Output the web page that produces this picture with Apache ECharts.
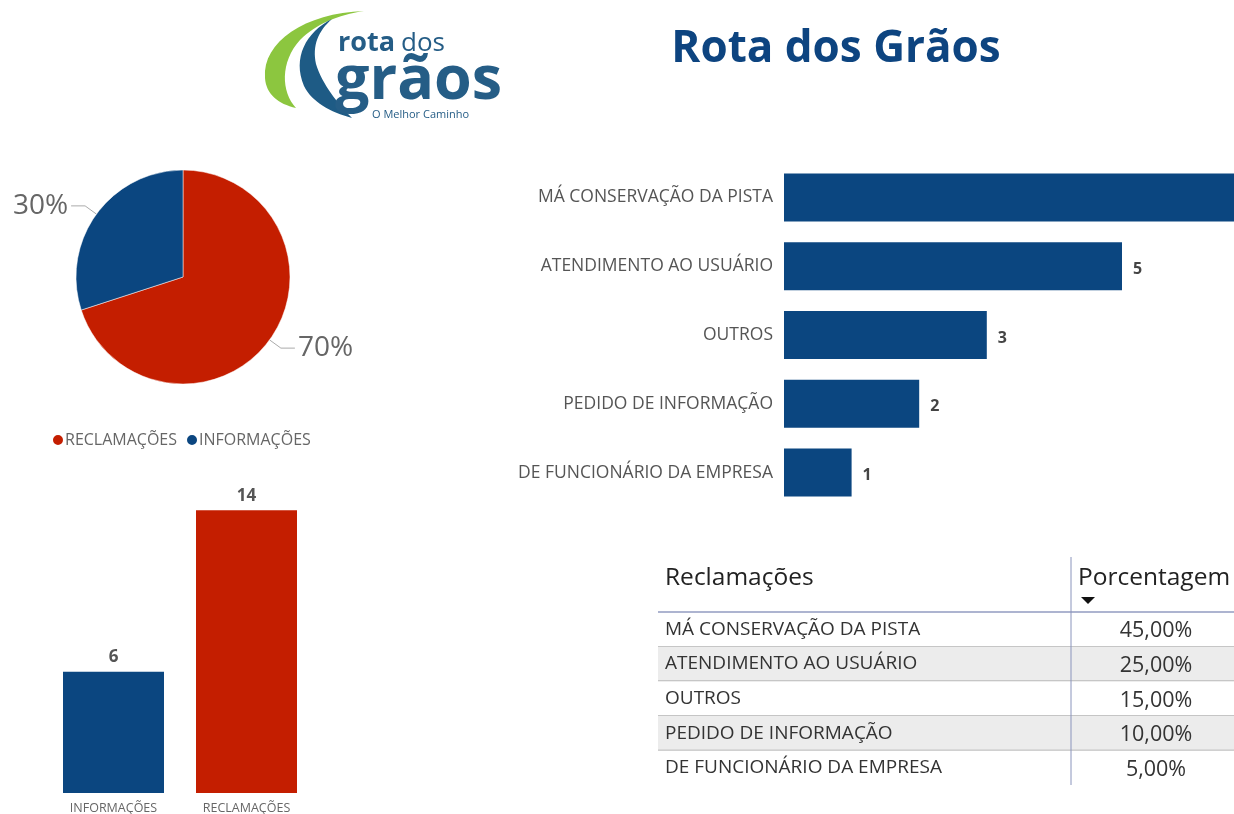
<!DOCTYPE html>
<html>
<head>
<meta charset="utf-8">
<script src="https://cdn.jsdelivr.net/npm/echarts@6/dist/echarts.min.js"></script>
<style>
  html, body { margin: 0; padding: 0; background: #fff; }
  #main { width: 1234px; height: 814px; }
</style>
</head>
<body>
<div id="main"></div>
<script>
  // pie / column: reclamações x informações
  var tipoNomes = ['RECLAMAÇÕES', 'INFORMAÇÕES']
  var tipoValores = [14, 6]
  var colunaNomes = ['INFORMAÇÕES', 'RECLAMAÇÕES']
  var colunaValores = [6, 14]

  // bar: motivos das reclamações
  var motivos = ['MÁ CONSERVAÇÃO DA PISTA', 'ATENDIMENTO AO USUÁRIO', 'OUTROS', 'PEDIDO DE INFORMAÇÃO', 'DE FUNCIONÁRIO DA EMPRESA']
  var motivoValores = [9, 5, 3, 2, 1]
  var porcentagens = ['45,00%', '25,00%', '15,00%', '10,00%', '5,00%']

  var AZUL = '#0b4680'
  var VERMELHO = '#c41e00'
  var FONTE = '"Open Sans", "Noto Sans", sans-serif'

  // logo outline: list of cubic segments -> polygon points
  function bezierPts (start, segs) {
    var pts = [start]
    var p0 = start
    segs.forEach(function (s) {
      for (var k = 1; k <= 16; k++) {
        var t = k / 16, u = 1 - t
        pts.push([
          u * u * u * p0[0] + 3 * u * u * t * s[0][0] + 3 * u * t * t * s[1][0] + t * t * t * s[2][0],
          u * u * u * p0[1] + 3 * u * u * t * s[0][1] + 3 * u * t * t * s[1][1] + t * t * t * s[2][1]
        ])
      }
      p0 = s[2]
    })
    return pts
  }

  var chart = echarts.init(document.getElementById('main'))

  var option = {
    animation: false,
    textStyle: { fontFamily: FONTE },
    color: [VERMELHO, AZUL],
    legend: {
      data: tipoNomes,
      left: 46,
      top: 427,
      icon: 'circle',
      itemWidth: 12,
      itemHeight: 12,
      itemGap: 8,
      textStyle: { fontSize: 16, color: '#666', padding: [0, 0, 0, -4] }
    },
    grid: [
      { left: 47, top: 490, width: 266, height: 303, outerBoundsMode: 'none' },
      { left: 784, top: 163, width: 676, height: 344, outerBoundsMode: 'none' },
      { left: 658, top: 612, width: 576, height: 173, outerBoundsMode: 'none' }
    ],
    xAxis: [
      {
        gridIndex: 0, type: 'category', data: colunaNomes,
        axisLine: { show: false }, axisTick: { show: false },
        axisLabel: { fontSize: 12.5, color: '#666', margin: 9 }
      },
      { gridIndex: 1, type: 'value', min: 0, max: 10, show: false },
      { gridIndex: 2, type: 'value', min: 0, max: 1, show: false }
    ],
    yAxis: [
      { gridIndex: 0, type: 'value', min: 0, max: 15, show: false },
      {
        gridIndex: 1, type: 'category', data: motivos, inverse: true,
        axisLine: { show: false }, axisTick: { show: false },
        axisLabel: { fontSize: 17.5, color: '#555', margin: 11, padding: [4, 0, 0, 0] }
      },
      { gridIndex: 2, type: 'category', data: motivos, inverse: true, show: false }
    ],
    series: [
      {
        type: 'pie',
        center: [183, 277],
        radius: 107,
        startAngle: 90,
        clockwise: true,
        data: tipoNomes.map(function (n, i) { return { name: n, value: tipoValores[i] } }),
        itemStyle: { borderColor: '#fff', borderWidth: 0.5 },
        label: {
          formatter: function (p) { return Math.round(p.percent) + '%' },
          fontSize: 28, color: '#666', distanceToLabelLine: 3, padding: [7, 0, 0, 0]
        },
        labelLine: { length: 14, length2: 14, lineStyle: { color: '#aaa', width: 1 } },
        emphasis: { disabled: true }
      },
      {
        type: 'bar',
        xAxisIndex: 0, yAxisIndex: 0,
        barWidth: 101,
        data: colunaValores.map(function (v, i) {
          return { value: v, itemStyle: { color: colunaNomes[i] === 'RECLAMAÇÕES' ? VERMELHO : AZUL } }
        }),
        label: { show: true, position: 'top', distance: 6, fontSize: 17, fontWeight: 'bold', color: '#555' }
      },
      {
        type: 'bar',
        xAxisIndex: 1, yAxisIndex: 1,
        barWidth: 48,
        itemStyle: { color: AZUL },
        data: motivoValores,
        label: { show: true, position: 'right', distance: 11, offset: [0, 3], fontSize: 16, fontWeight: 'bold', color: '#444' }
      },
      {
        type: 'custom',
        xAxisIndex: 2, yAxisIndex: 2,
        data: motivos.map(function (m, i) { return [i, m, porcentagens[i]] }),
        encode: { y: 0 },
        renderItem: function (params, api) {
          var i = api.value(0)
          var c = api.coord([0, i])
          var h = api.size([0, 1])[1]
          var y0 = c[1] - h / 2
          var kids = [
            {
              type: 'rect',
              shape: { x: 658, y: y0, width: 576, height: h },
              style: { fill: i % 2 === 1 ? '#ececec' : '#fff' }
            },
            {
              type: 'text',
              style: { x: 665, y: c[1], text: motivos[i], fontSize: 19, fontFamily: FONTE, fill: '#333', verticalAlign: 'middle' }
            },
            {
              type: 'text',
              style: { x: 1156, y: c[1] + 2, text: porcentagens[i], fontSize: 21.5, fontFamily: FONTE, fill: '#333', align: 'center', verticalAlign: 'middle' }
            }
          ]
          if (i < motivos.length - 1) {
            kids.push({
              type: 'line',
              shape: { x1: 658, y1: y0 + h, x2: 1234, y2: y0 + h },
              style: { stroke: '#a0a0a0', lineWidth: 1.3 }
            })
          }
          return { type: 'group', children: kids }
        }
      }
    ],
    graphic: [
      // logo
      {
        type: 'polygon',
        shape: { points: bezierPts([364, 11], [
          [[305, 13], [262, 42], [265, 78]],
          [[266, 94], [278, 104], [296, 108]],
          [[281, 92], [280, 62], [300, 40]],
          [[316, 24], [338, 15], [364, 11]]
        ]) },
        style: { fill: '#8cc63f' }
      },
      {
        type: 'polygon',
        shape: { points: bezierPts([332, 19], [
          [[306, 32], [292, 58], [304, 86]],
          [[312, 102], [330, 112], [352, 118]],
          [[338, 104], [322, 84], [316, 64]],
          [[312, 46], [318, 31], [332, 19]]
        ]) },
        style: { fill: '#1e5b85' }
      },
      {
        type: 'text',
        style: { x: 338, y: 57, text: 'rota', fontSize: 27, fontWeight: 'bold', fontFamily: FONTE, fill: '#255d86', verticalAlign: 'bottom' }
      },
      {
        type: 'text',
        style: { x: 401, y: 57, text: 'dos', fontSize: 26, fontFamily: FONTE, fill: '#255d86', verticalAlign: 'bottom' }
      },
      {
        type: 'text',
        style: { x: 335, y: 82, text: 'grãos', fontSize: 61, fontWeight: 'bold', fontFamily: FONTE, fill: '#255d86', verticalAlign: 'middle' }
      },
      {
        type: 'text',
        style: { x: 372, y: 115, text: 'O Melhor Caminho', fontSize: 11, fontFamily: FONTE, fill: '#255d86', verticalAlign: 'middle' }
      },
      // title
      {
        type: 'text',
        style: { x: 836, y: 49, text: 'Rota dos Grãos', fontSize: 44, fontWeight: 'bold', fontFamily: FONTE, fill: '#0d4480', align: 'center', verticalAlign: 'middle' }
      },
      // table header
      {
        type: 'text',
        style: { x: 665, y: 578, text: 'Reclamações', fontSize: 24.5, fontFamily: FONTE, fill: '#222', verticalAlign: 'middle' }
      },
      {
        type: 'text',
        style: { x: 1078, y: 578, text: 'Porcentagem', fontSize: 24.5, fontFamily: FONTE, fill: '#222', verticalAlign: 'middle' }
      },
      {
        type: 'polygon',
        shape: { points: [[1081, 597], [1095, 597], [1088, 604]] },
        style: { fill: '#111' }
      },
      {
        type: 'line', z: 10,
        shape: { x1: 658, y1: 612, x2: 1234, y2: 612 },
        style: { stroke: '#5c6aa2', lineWidth: 1.2 }
      },
      {
        type: 'line', z: 10,
        shape: { x1: 1071, y1: 557, x2: 1071, y2: 785 },
        style: { stroke: '#8a94bc', lineWidth: 1 }
      }
    ]
  }

  chart.setOption(option)
</script>
</body>
</html>
